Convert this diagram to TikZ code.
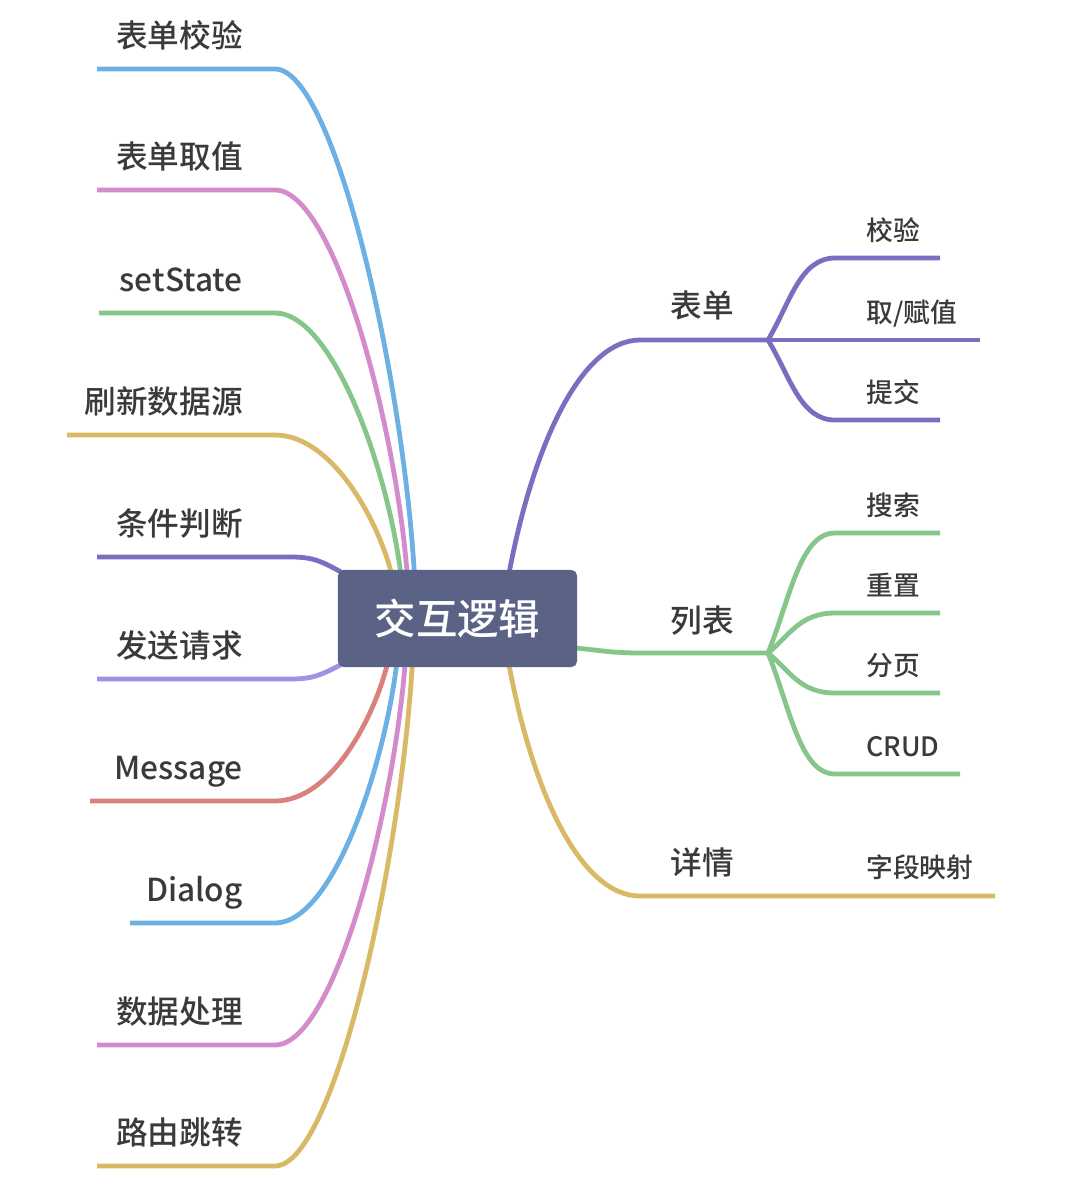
\documentclass[tikz,border=0pt]{standalone}
\usepackage{fontspec}
\setmainfont{Noto Sans CJK SC}[UprightFont=* Medium, BoldFont=* Bold]
\usetikzlibrary{backgrounds}

\definecolor{cblue}{HTML}{6DB0E3}
\definecolor{cpink}{HTML}{D48BCB}
\definecolor{cgreen}{HTML}{87C68B}
\definecolor{cyellow}{HTML}{D9B965}
\definecolor{cpurple}{HTML}{7B6DC0}
\definecolor{clav}{HTML}{A190E6}
\definecolor{cred}{HTML}{D9827D}
\definecolor{rootc}{HTML}{5A6286}
\definecolor{txt}{HTML}{3A3A3A}

\begin{document}
\begin{tikzpicture}[x=0.025cm, y=-0.025cm,
  branch/.style={line width=3.4pt, line join=round},
  lbl/.style={inner sep=0pt, text=txt, font=\fontsize{22.5}{24}\selectfont,
    text height=0.88em, text depth=0.12em},
  sublbl/.style={lbl, font=\fontsize{19}{20}\selectfont},
  rootbox/.style={fill=rootc, rounded corners=4pt, inner sep=0pt, text=white,
    minimum width=5.975cm, minimum height=2.425cm, font=\fontsize{29.5}{30}\selectfont}]
  \useasboundingbox (0,0) rectangle (1080,1186);

  % Centre.
  \node[rootbox] (root) at (457.5,618.5) {交互逻辑};

  \begin{scope}[on background layer]
    \fill[white] (0,0) rectangle (1080,1186);
    % Left, upper branches.
    \foreach \y/\x/\hx/\c/\t [count=\i] in {69/97/415/cblue/表单校验,
        190/97/408/cpink/表单取值, 313/99/402/cgreen/setState,
        435/67/394/cyellow/刷新数据源} {
      \coordinate (eu\i) at (\x,\y);
      \coordinate (hu\i) at (\hx,585);
      \node[lbl, anchor=east] (tu\i) at (243,\y-27) {\t};
      \draw[branch, \c] (hu\i) .. controls +(-10,{-0.4*(571-\y)}) and (335,\y) .. (275,\y) -- (eu\i);
    }
    % Left, lower branches.
    \foreach \y/\x/\hx/\c/\t [count=\i] in {801/90/390/cred/Message,
        923/130/398/cblue/Dialog, 1045/97/406/cpink/数据处理,
        1166/97/413/cyellow/路由跳转} {
      \coordinate (el\i) at (\x,\y);
      \coordinate (hl\i) at (\hx,652);
      \node[lbl, anchor=east] (tl\i) at (243,\y-27) {\t};
      \draw[branch, \c] (hl\i) .. controls +(-10,{0.4*(\y-666)}) and (335,\y) .. (275,\y) -- (el\i);
    }
    % Left, side branches.
    \coordinate (es1) at (97,557);
    \coordinate (hs1) at (355,580);
    \node[lbl, anchor=east] (ts1) at (243,530) {条件判断};
    \draw[branch, cpurple] (hs1) .. controls (322,561) and (315,557) .. (290,557) -- (es1);
    \coordinate (es2) at (97,679);
    \coordinate (hs2) at (355,657);
    \node[lbl, anchor=east] (ts2) at (243,652) {发送请求};
    \draw[branch, clav] (hs2) .. controls (322,675) and (315,679) .. (290,679) -- (es2);

    % Right: form.
    \coordinate (fb) at (768,340);
    \node[lbl] (bd) at (702,312) {表单};
    \draw[branch, cpurple] (506,590) .. controls (530,450) and (580,340) .. (640,340) -- (fb);
    \foreach \y/\x/\t [count=\i] in {258/940/校验, 340/980/{取/赋值}, 420/940/提交} {
      \coordinate (eb\i) at (\x,\y);
      \node[sublbl, anchor=west] (tb\i) at (866,\y-23) {\t};
      \draw[branch, cpurple] (fb) .. controls +(22,{0.45*(\y-340)}) and (800,\y) .. (835,\y) -- (eb\i);
    }

    % Right: list.
    \coordinate (fl) at (768,653);
    \node[lbl] (lb) at (702,627) {列表};
    \draw[branch, cgreen] (565,647) .. controls (600,650) and (610,653) .. (640,653) -- (fl);
    \foreach \y/\x/\t [count=\i] in {533/940/搜索, 613/940/重置, 693/940/分页, 774/960/CRUD} {
      \coordinate (eg\i) at (\x,\y);
      \node[sublbl, anchor=west] (tg\i) at (866,\y-23) {\t};
      \draw[branch, cgreen] (fl) .. controls +(22,{0.45*(\y-653)}) and (800,\y) .. (835,\y) -- (eg\i);
    }

    % Right: detail.
    \coordinate (ex) at (995,896);
    \node[lbl] (xq) at (702,869) {详情};
    \node[sublbl, anchor=west] (zd) at (866,872) {字段映射};
    \draw[branch, cyellow] (506,648) .. controls (530,790) and (580,896) .. (640,896) -- (ex);
  \end{scope}
\end{tikzpicture}
\end{document}
